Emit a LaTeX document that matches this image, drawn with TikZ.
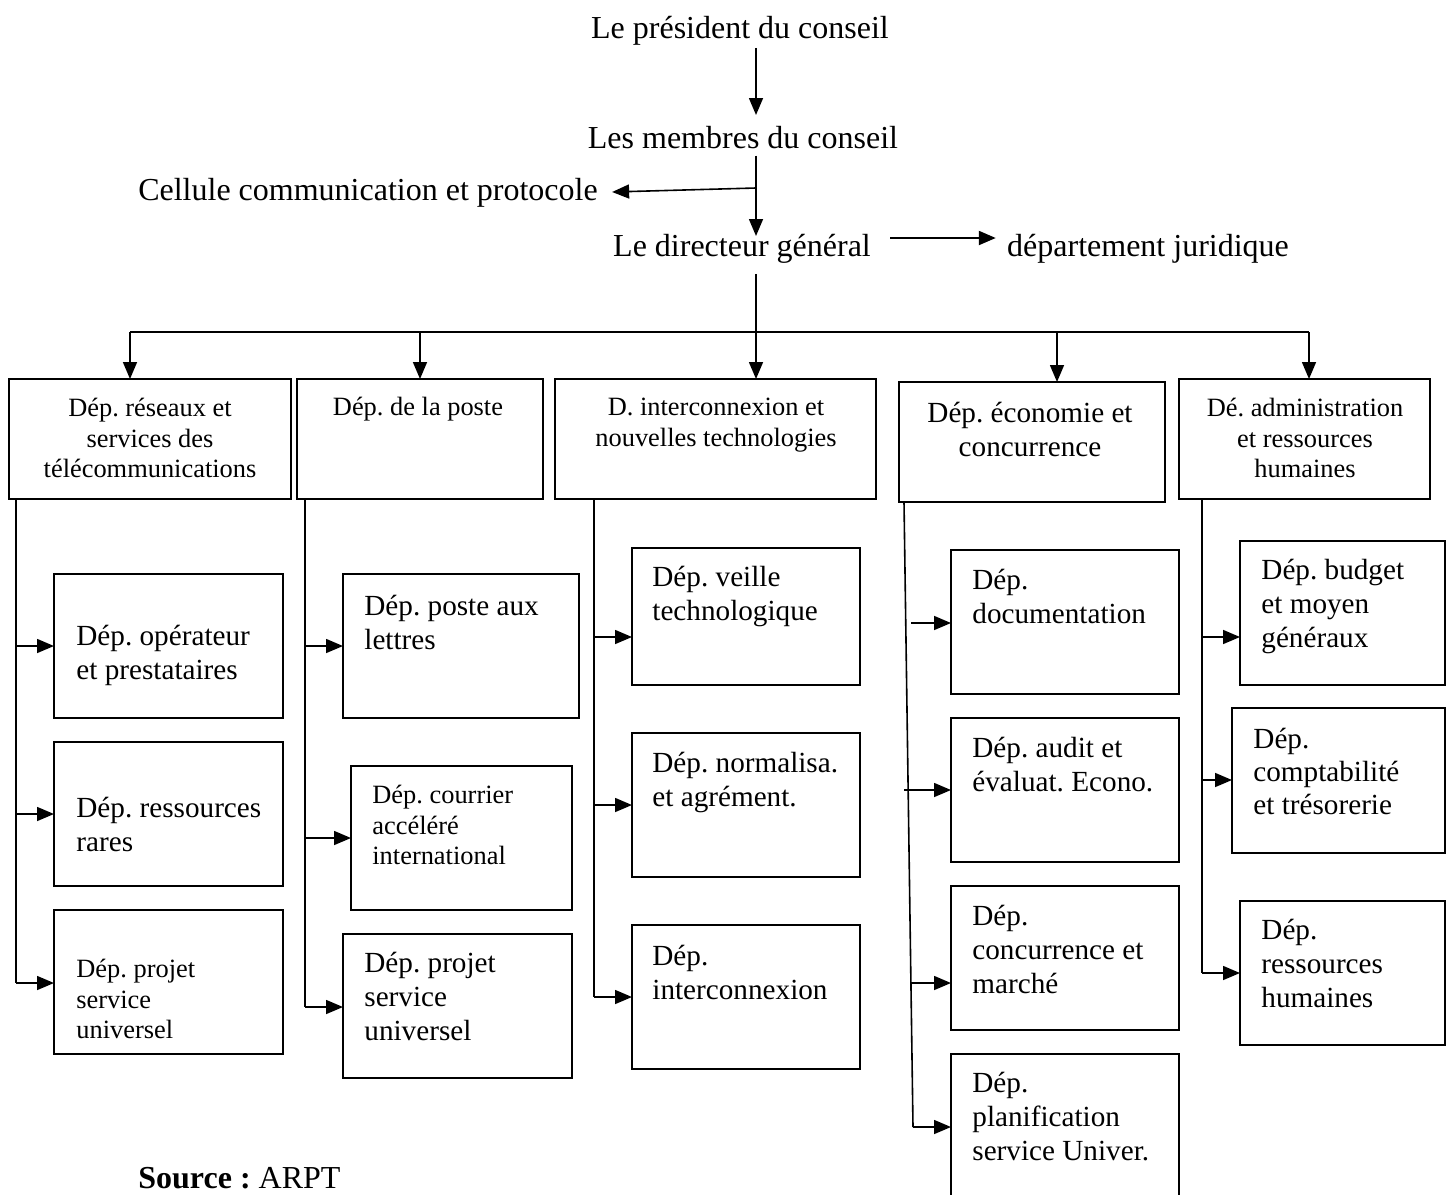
\documentclass[tikz,border=0pt]{standalone}
\usepackage{fontspec}
\setmainfont{Liberation Serif}
\usetikzlibrary{arrows.meta,calc}
\frenchspacing
\newcommand\fbig{\fontsize{16}{19}\selectfont}
\newcommand\fmid{\fontsize{14.6}{17}\selectfont}
\newcommand\fsml{\fontsize{13.2}{15.3}\selectfont}
\newcommand\bx[5]{\node[boxst, minimum width={(#4-#2)*0.5pt}, minimum height={(#5-#3)*0.5pt}] (#1) at ({(#2+#4)/2},{(#3+#5)/2}) {};}
\tikzset{
  boxst/.style={draw, line width=1pt, inner sep=0pt, outer sep=0pt},
  mtext/.style={font=\fbig, inner sep=0pt},
  dtext/.style={align=center, inner sep=0pt, anchor=center},
  stext/.style={align=left, inner sep=0pt, anchor=west, font=\fmid},
  ln/.style={line width=0.8pt},
  arr/.style={line width=0.8pt, -{Triangle[length=8.5pt,width=7pt]}},
}
\begin{document}
\begin{tikzpicture}[x=0.5pt,y=-0.5pt]
\useasboundingbox (0,0) rectangle (1450,1194);
\clip (0,0) rectangle (1450,1194);

% top hierarchy
\node[mtext] (pres) at (740,31) {Le président du conseil};
\node[mtext] (memb) at (743,138) {Les membres du conseil};
\node[mtext] (cell) at (368,193) {Cellule communication et protocole};
\node[mtext] (dg) at (742,249) {Le directeur général};
\node[mtext] (jur) at (1148,249) {département juridique};

\draw[arr] (pres.south -| 756,0) ++(0,2) -- (756,115);
\draw[arr] (memb.south -| 756,0) ++(0,6) -- (756,236);
\coordinate (j1) at (756,188);
\draw[arr] (j1) -- ($(cell.east)+(14,-1)$);
\draw[arr, line width=1.1pt] ($(dg.east)+(19,-11)$) -- ($(jur.west)+(-11,-11)$);

% department boxes
\bx{d1}{9}{379}{291}{499}
\bx{d2}{297}{379}{543}{499}
\bx{d3}{555}{379}{876}{499}
\bx{d4}{899}{382}{1165}{502}
\bx{d5}{1179}{379}{1430}{499}

\node[dtext, font=\fsml] (t1) at (150,438) {Dép. réseaux et\\services des\\télécommunications};
\node[dtext, font=\fsml] (t2) at (418,409) {Dép. de la poste};
\node[dtext, font=\fsml] (t3) at (716,425) {D. interconnexion et\\nouvelles technologies};
\node[dtext, font=\fmid] (t4) at (1030,429) {Dép. économie et\\concurrence};
\node[dtext, font=\fsml] (t5) at (1305,438) {Dé. administration\\et ressources\\humaines};

% bus
\draw[arr] (dg.south -| 756,0) ++(0,10) -- (d3.north -| 756,0);
\coordinate (bl) at (130,332);
\coordinate (br) at (1309,332);
\draw[line width=1.1pt] (bl) -- (br);
\draw[arr] (bl) -- (d1.north -| bl);
\draw[arr] (420,332) -- (d2.north -| 420,0);
\draw[arr] (1057,332) -- (d4.north -| 1057,0);
\draw[arr] (br) -- (d5.north -| br);

% column 1
\bx{a1}{54}{574}{283}{718}
\bx{a2}{54}{742}{283}{886}
\bx{a3}{54}{910}{283}{1054}
\node[stext] (ta1) at (76,655) {Dép. opérateur\\et prestataires};
\node[stext] (ta2) at (76,824) {Dép. ressources\\rares};
\node[stext, font=\fsml] (ta3) at (76,999) {Dép. projet\\service\\universel};
\draw[ln] (d1.south -| 16,0) -- (16,983);
\draw[arr] (16,646) -- (a1.west |- 0,646);
\draw[arr] (16,814) -- (a2.west |- 0,814);
\draw[arr] (16,983) -- (a3.west |- 0,983);

% column 2
\bx{b1}{343}{574}{579}{718}
\bx{b2}{351}{766}{572}{910}
\bx{b3}{343}{934}{572}{1078}
\node[stext] (tb1) at (364,622) {Dép. poste aux\\lettres};
\node[stext, font=\fsml] (tb2) at (372,825) {Dép. courrier\\accéléré\\international};
\node[stext] (tb3) at (364,996) {Dép. projet\\service\\universel};
\draw[ln] (d2.south -| 305,0) -- (305,1007);
\draw[arr] (305,646) -- (b1.west |- 0,646);
\draw[arr] (305,838) -- (b2.west |- 0,838);
\draw[arr] (305,1007) -- (b3.west |- 0,1007);

% column 3
\bx{c1}{632}{548}{860}{685}
\bx{c2}{632}{733}{860}{877}
\bx{c3}{632}{925}{860}{1069}
\node[stext] (tc1) at (652,596) {Dép. veille\\technologique};
\node[stext] (tc2) at (652,782) {Dép. normalisa.\\et agrément.};
\node[stext] (tc3) at (652,972) {Dép.\\interconnexion};
\draw[ln] (d3.south -| 594,0) -- (594,997);
\draw[arr] (594,637) -- (c1.west |- 0,637);
\draw[arr] (594,805) -- (c2.west |- 0,805);
\draw[arr] (594,997) -- (c3.west |- 0,997);

% column 4
\bx{e1}{951}{550}{1179}{694}
\bx{e2}{951}{718}{1179}{862}
\bx{e3}{951}{886}{1179}{1030}
\bx{e4}{951}{1054}{1179}{1214}
\node[stext] (te1) at (972,596) {Dép.\\documentation};
\node[stext] (te2) at (972,765) {Dép. audit et\\évaluat. Econo.};
\node[stext] (te3) at (972,949) {Dép.\\concurrence et\\marché};
\node[stext] (te4) at (972,1117) {Dép.\\planification\\service Univer.};
\draw[ln] (d4.south -| 904,0) -- (913,1127);
\draw[arr] (911,623) -- (e1.west |- 0,623);
\draw[arr] (904,790) -- (e2.west |- 0,790);
\draw[arr] (911,983) -- (e3.west |- 0,983);
\draw[arr] (913,1127) -- (e4.west |- 0,1127);

% column 5
\bx{f1}{1240}{541}{1445}{685}
\bx{f2}{1232}{708}{1445}{853}
\bx{f3}{1240}{901}{1445}{1045}
\node[stext] (tf1) at (1261,606) {Dép. budget\\et moyen\\généraux};
\node[stext, font=\fontsize{14.6}{16.5}\selectfont] (tf2) at (1253,771) {Dép.\\comptabilité\\et trésorerie};
\node[stext] (tf3) at (1261,963) {Dép.\\ressources\\humaines};
\draw[ln] (d5.south -| 1202,0) -- (1202,973);
\draw[arr] (1202,637) -- (f1.west |- 0,637);
\draw[arr] (1202,780) -- (f2.west |- 0,780);
\draw[arr] (1202,973) -- (f3.west |- 0,973);

% source
\node[font=\fbig, inner sep=0pt, anchor=base west] (src) at (138,1188) {\textbf{Source :} ARPT};
\end{tikzpicture}
\end{document}
